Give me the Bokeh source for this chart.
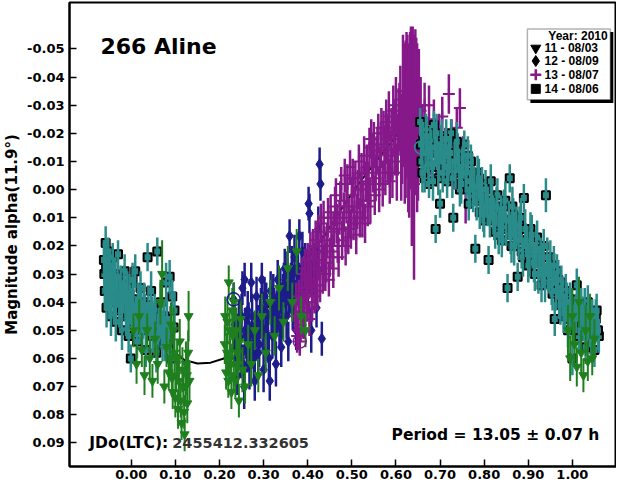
from bokeh.plotting import figure
from bokeh.models import (Range1d, FixedTicker, NumeralTickFormatter,
                          Label, BoxAnnotation, ColumnDataSource)
from bokeh.embed import file_html
from bokeh.resources import INLINE

# ---------------- data ----------------
x_ticks = [0.0, 0.1, 0.2, 0.3, 0.4, 0.5, 0.6, 0.7, 0.8, 0.9, 1.0]
y_ticks = [-0.05, -0.04, -0.03, -0.02, -0.01, 0.0, 0.01, 0.02, 0.03, 0.04,
           0.05, 0.06, 0.07, 0.08, 0.09]

legend_title = "Year: 2010"
legend_labels = ["11 - 08/03", "12 - 08/09", "13 - 08/07", "14 - 08/06"]

# session 11 (green, triangles)
s11_phase = [0.005, 0.012, 0.018, 0.024, 0.030, 0.036, 0.042, 0.048, 0.054, 0.060,
             0.066, 0.070, 0.075, 0.080, 0.085, 0.090, 0.094, 0.098, 0.102, 0.106,
             0.110, 0.114, 0.118, 0.121, 0.124, 0.127, 0.130, 0.132,
             0.088, 0.092, 0.096, 0.100, 0.104, 0.108, 0.112, 0.116, 0.120, 0.123,
             0.126, 0.129,
             0.212, 0.215, 0.218, 0.221, 0.224, 0.227, 0.230, 0.233, 0.236, 0.240,
             0.244, 0.248, 0.252, 0.258, 0.265, 0.272, 0.280, 0.288, 0.296, 0.305,
             0.315, 0.325, 0.335, 0.345, 0.355, 0.365, 0.375, 0.385, 0.395,
             0.213, 0.217, 0.220, 0.223, 0.226, 0.229, 0.232, 0.238, 0.242, 0.246,
             0.990, 0.995, 1.000, 1.005, 1.010, 1.015, 1.020, 1.025, 1.030, 1.035,
             1.040, 1.045, 1.050]
s11_mag = [0.050, 0.062, 0.045, 0.057, 0.066, 0.050, 0.060, 0.068, 0.053, 0.062,
           0.040, 0.030, 0.070, 0.056, 0.065, 0.048, 0.072, 0.058, 0.066, 0.078,
           0.054, 0.083, 0.070, 0.087, 0.062, 0.076, 0.045, 0.068,
           0.060, 0.067, 0.050, 0.074, 0.060, 0.068, 0.075, 0.064, 0.079, 0.070,
           0.066, 0.058,
           0.055, 0.065, 0.047, 0.033, 0.060, 0.072, 0.052, 0.040, 0.068, 0.058,
           0.075, 0.046, 0.064, 0.070, 0.055, 0.062, 0.050, 0.066, 0.045, 0.058,
           0.040, 0.052, 0.035, 0.047, 0.028, 0.040, 0.022, 0.045, 0.050,
           0.045, 0.058, 0.068, 0.050, 0.062, 0.043, 0.066, 0.050, 0.062, 0.054,
           0.050, 0.060, 0.045, 0.055, 0.063, 0.040, 0.058, 0.066, 0.050, 0.061,
           0.045, 0.060, 0.053]
s11_err = [0.006, 0.007, 0.006, 0.006, 0.007, 0.006, 0.007, 0.006, 0.006, 0.007,
           0.008, 0.012, 0.006, 0.007, 0.006, 0.008, 0.006, 0.007, 0.006, 0.007,
           0.008, 0.006, 0.007, 0.006, 0.008, 0.007, 0.009, 0.007,
           0.007, 0.006, 0.008, 0.007, 0.006, 0.007, 0.006, 0.008, 0.006, 0.007,
           0.007, 0.008,
           0.007, 0.006, 0.008, 0.006, 0.007, 0.006, 0.008, 0.007, 0.006, 0.008,
           0.006, 0.007, 0.008, 0.006, 0.007, 0.008, 0.007, 0.006, 0.008, 0.007,
           0.008, 0.007, 0.008, 0.007, 0.008, 0.007, 0.008, 0.007, 0.006,
           0.007, 0.007, 0.006, 0.008, 0.007, 0.008, 0.006, 0.008, 0.007, 0.007,
           0.009, 0.008, 0.010, 0.008, 0.007, 0.009, 0.008, 0.006, 0.009, 0.007,
           0.008, 0.006, 0.007]

# session 12 (navy, diamonds)
s12_phase = [0.232, 0.236, 0.240, 0.244, 0.248, 0.252, 0.256, 0.257, 0.260, 0.264,
             0.268, 0.272, 0.276, 0.280, 0.284, 0.288, 0.292, 0.296, 0.300, 0.302,
             0.304, 0.308, 0.312, 0.314, 0.316, 0.320, 0.324, 0.328, 0.332, 0.336,
             0.340, 0.344, 0.348, 0.352, 0.356, 0.359, 0.362, 0.366, 0.370, 0.374,
             0.378, 0.381, 0.384, 0.388, 0.392, 0.396, 0.400, 0.402, 0.404, 0.408,
             0.412, 0.416, 0.420, 0.424, 0.427, 0.429, 0.432, 0.435,
             0.234, 0.238, 0.242, 0.246, 0.250, 0.254, 0.258, 0.262, 0.266, 0.270,
             0.274, 0.278, 0.282, 0.286, 0.290, 0.294, 0.298, 0.306, 0.310, 0.318,
             0.322, 0.326, 0.330, 0.334, 0.338, 0.342, 0.346, 0.350, 0.354, 0.358,
             0.364, 0.368, 0.372, 0.376, 0.380, 0.386, 0.390, 0.394, 0.398, 0.406,
             0.410, 0.414, 0.418, 0.422]
s12_mag = [0.039, 0.055, 0.066, 0.047, 0.060, 0.035, 0.070, 0.032, 0.052, 0.043,
           0.063, 0.033, 0.055, 0.068, 0.038, 0.058, 0.046, 0.032, 0.064, 0.038,
           0.050, 0.044, 0.060, 0.068, 0.036, 0.052, 0.042, 0.062, 0.032, 0.048,
           0.056, 0.038, 0.028, 0.045, 0.054, 0.0165, 0.034, 0.043, 0.024, 0.050,
           0.030, 0.0165, 0.038, 0.022, 0.045, 0.028, 0.036, 0.005, 0.0085, 0.050,
           0.022, 0.032, 0.042, 0.014, -0.009, -0.002, 0.053, 0.028,
           0.048, 0.060, 0.052, 0.056, 0.045, 0.062, 0.050, 0.058, 0.048, 0.055,
           0.045, 0.060, 0.052, 0.048, 0.055, 0.042, 0.050, 0.040, 0.052, 0.045,
           0.038, 0.050, 0.044, 0.040, 0.036, 0.046, 0.034, 0.040, 0.030, 0.038,
           0.028, 0.035, 0.040, 0.028, 0.034, 0.030, 0.036, 0.026, 0.032, 0.028,
           0.036, 0.026, 0.030, 0.022]
s12_err = [0.006, 0.008, 0.007, 0.008, 0.007, 0.006, 0.008, 0.006, 0.008, 0.007,
           0.008, 0.007, 0.008, 0.007, 0.007, 0.008, 0.007, 0.006, 0.008, 0.007,
           0.008, 0.007, 0.008, 0.007, 0.007, 0.008, 0.007, 0.008, 0.007, 0.008,
           0.007, 0.008, 0.007, 0.008, 0.007, 0.006, 0.008, 0.007, 0.008, 0.007,
           0.008, 0.006, 0.008, 0.007, 0.008, 0.007, 0.008, 0.006, 0.007, 0.008,
           0.007, 0.008, 0.007, 0.008, 0.006, 0.006, 0.006, 0.008,
           0.008, 0.007, 0.008, 0.007, 0.008, 0.007, 0.008, 0.007, 0.008, 0.007,
           0.008, 0.007, 0.008, 0.007, 0.008, 0.007, 0.008, 0.007, 0.008, 0.007,
           0.008, 0.007, 0.008, 0.007, 0.008, 0.007, 0.008, 0.007, 0.008, 0.007,
           0.008, 0.007, 0.008, 0.007, 0.008, 0.007, 0.008, 0.007, 0.008, 0.007,
           0.008, 0.007, 0.008, 0.007]

# session 13 (purple, crosses)
s13_phase = [0.372, 0.376, 0.380, 0.382, 0.384, 0.388, 0.392, 0.396, 0.400, 0.404,
             0.408, 0.412, 0.416, 0.420, 0.424, 0.428, 0.432, 0.436, 0.440, 0.444,
             0.448, 0.452, 0.456, 0.460, 0.464, 0.468, 0.472, 0.476, 0.480, 0.484,
             0.488, 0.492, 0.496, 0.500, 0.504, 0.508, 0.512, 0.516, 0.520, 0.524,
             0.528, 0.532, 0.536, 0.540, 0.544, 0.548, 0.552, 0.556, 0.560, 0.564,
             0.567, 0.570, 0.574, 0.578, 0.582, 0.586, 0.590, 0.594, 0.598, 0.602,
             0.606, 0.610, 0.614, 0.618, 0.622, 0.626, 0.630, 0.634, 0.638, 0.641,
             0.644, 0.648, 0.652, 0.656, 0.660, 0.665, 0.670, 0.675, 0.680, 0.686,
             0.692, 0.698, 0.705, 0.712, 0.720, 0.726, 0.732, 0.738, 0.745, 0.752,
             0.758,
             0.374, 0.378, 0.386, 0.390, 0.394, 0.398, 0.402, 0.406, 0.410, 0.414,
             0.418, 0.422, 0.426, 0.430, 0.434, 0.438, 0.442, 0.446, 0.450, 0.454,
             0.458, 0.462, 0.466, 0.470, 0.474, 0.478, 0.482, 0.486, 0.490, 0.494,
             0.498, 0.502, 0.506, 0.510, 0.514, 0.518, 0.522, 0.526, 0.530, 0.534,
             0.538, 0.542, 0.546, 0.550, 0.554, 0.558, 0.562, 0.566, 0.572, 0.576,
             0.580, 0.584, 0.588, 0.592, 0.596, 0.600, 0.604, 0.608, 0.612, 0.616,
             0.620, 0.624, 0.628, 0.632, 0.636, 0.640, 0.646, 0.650]
s13_mag = [0.045, 0.052, 0.038, 0.054, 0.048, 0.030, 0.042, 0.035, 0.025, 0.046,
           0.032, 0.020, 0.038, 0.028, 0.015, 0.034, 0.022, 0.010, 0.030, 0.018,
           0.032, 0.008, 0.022, 0.014, 0.002, 0.020, 0.010, -0.002, 0.014, -0.005,
           0.006, 0.017, -0.008, 0.002, 0.012, -0.004, 0.008, -0.010, 0.000, 0.010,
           -0.012, -0.003, 0.006, -0.015, -0.018, -0.006, 0.002, -0.012, -0.020, -0.008,
           -0.022, -0.002, -0.015, -0.024, -0.010, -0.003, -0.020, -0.028, -0.014, -0.006,
           -0.024, -0.032, -0.018, -0.030, -0.025, -0.035, -0.020, -0.032, -0.028, -0.002,
           -0.035, -0.022, -0.030, -0.028, -0.022, -0.030, -0.018, -0.030, -0.012, -0.025,
           -0.008, -0.020, -0.026, -0.015, -0.034, -0.018, -0.008, -0.022, -0.029, -0.012,
           0.000,
           0.040, 0.050, 0.036, 0.046, 0.028, 0.040, 0.032, 0.022, 0.040, 0.028,
           0.018, 0.036, 0.025, 0.012, 0.030, 0.020, 0.026, 0.010, 0.024, 0.015,
           0.028, 0.006, 0.012, 0.024, 0.004, 0.018, 0.008, 0.020, -0.002, 0.010,
           0.014, -0.004, 0.006, 0.016, 0.000, 0.010, -0.006, 0.004, 0.012, -0.008,
           -0.002, 0.004, -0.012, -0.016, -0.004, -0.014, 0.000, -0.016, -0.020, -0.006,
           -0.018, -0.026, -0.012, -0.006, -0.022, -0.030, -0.016, -0.026, -0.010, -0.035,
           -0.020, -0.030, -0.022, -0.028, -0.010, -0.030, -0.026, -0.018]
s13_err = [0.006, 0.006, 0.006, 0.005, 0.006, 0.006, 0.006, 0.006, 0.006, 0.006,
           0.006, 0.006, 0.006, 0.006, 0.006, 0.006, 0.006, 0.006, 0.006, 0.006,
           0.006, 0.006, 0.006, 0.006, 0.006, 0.006, 0.006, 0.006, 0.006, 0.006,
           0.006, 0.006, 0.006, 0.006, 0.006, 0.006, 0.006, 0.006, 0.006, 0.007,
           0.007, 0.007, 0.007, 0.007, 0.007, 0.007, 0.007, 0.007, 0.007, 0.007,
           0.007, 0.008, 0.008, 0.008, 0.008, 0.008, 0.009, 0.009, 0.009, 0.010,
           0.012, 0.012, 0.016, 0.022, 0.028, 0.020, 0.030, 0.026, 0.030, 0.034,
           0.022, 0.030, 0.020, 0.012, 0.008, 0.008, 0.007, 0.007, 0.007, 0.007,
           0.007, 0.007, 0.007, 0.007, 0.007, 0.007, 0.008, 0.007, 0.007, 0.007,
           0.012,
           0.007, 0.007, 0.007, 0.007, 0.007, 0.007, 0.007, 0.007, 0.007, 0.007,
           0.007, 0.007, 0.007, 0.007, 0.007, 0.007, 0.007, 0.007, 0.007, 0.007,
           0.007, 0.007, 0.007, 0.007, 0.007, 0.007, 0.007, 0.007, 0.007, 0.007,
           0.007, 0.007, 0.007, 0.007, 0.007, 0.007, 0.007, 0.007, 0.007, 0.008,
           0.008, 0.008, 0.008, 0.008, 0.008, 0.008, 0.008, 0.008, 0.008, 0.008,
           0.009, 0.009, 0.009, 0.009, 0.010, 0.010, 0.011, 0.012, 0.014, 0.020,
           0.025, 0.026, 0.030, 0.028, 0.030, 0.025, 0.028, 0.022]

# session 14 (teal, squares)
s14_phase = [-0.062, -0.060, -0.058, -0.056, -0.054, -0.052, -0.050, -0.048, -0.046, -0.044,
             -0.042, -0.040, -0.037, -0.035, -0.032, -0.030, -0.027, -0.024, -0.021, -0.018,
             -0.015, -0.012, -0.009, -0.006, -0.003, -0.001, 0.003, 0.006, 0.009, 0.013,
             0.017, 0.021, 0.025, 0.029, 0.033, 0.037, 0.041, 0.045, 0.049, 0.053,
             0.057, 0.059, 0.063, 0.067, 0.071, 0.075, 0.079, 0.083, 0.087, 0.090,
             0.093, 0.096, 0.098,
             -0.061, -0.057, -0.053, -0.049, -0.045, -0.041, -0.036, -0.031, -0.026, -0.022,
             -0.017, -0.013, -0.008, -0.004, 0.001, 0.005, 0.011, 0.015, 0.019, 0.023,
             0.027, 0.031, 0.035, 0.039, 0.043, 0.047, 0.051, 0.055, 0.061, 0.065,
             0.069, 0.073, 0.077, 0.081, 0.085,
             0.655, 0.658, 0.662, 0.665, 0.668, 0.672, 0.675,
             0.678, 0.682, 0.686, 0.690, 0.693, 0.696, 0.700, 0.704, 0.708, 0.712,
             0.716, 0.720, 0.725, 0.730, 0.735, 0.740, 0.745, 0.750, 0.755, 0.760,
             0.765, 0.770, 0.775, 0.780, 0.785, 0.790, 0.795, 0.800, 0.805, 0.810,
             0.815, 0.820, 0.825, 0.830, 0.835, 0.840, 0.845, 0.850, 0.853, 0.858,
             0.862, 0.866, 0.870, 0.876, 0.880, 0.885, 0.890, 0.895, 0.900, 0.905,
             0.910, 0.915, 0.920, 0.925, 0.930, 0.935, 0.940, 0.945, 0.950, 0.955,
             0.960, 0.965, 0.970, 0.975, 0.980, 0.985, 0.990, 0.995, 1.000, 1.005,
             1.010, 1.015, 1.020, 1.025, 1.030, 1.035, 1.040, 1.045, 1.050, 1.055,
             1.060,
             0.657, 0.660, 0.667, 0.670, 0.674, 0.680, 0.684, 0.688, 0.692, 0.698,
             0.702, 0.706, 0.710, 0.714, 0.718, 0.723, 0.728, 0.733, 0.738, 0.743,
             0.748, 0.753, 0.758, 0.763, 0.768, 0.773, 0.778, 0.783, 0.788, 0.793,
             0.798, 0.803, 0.808, 0.813, 0.818, 0.823, 0.828, 0.833, 0.838, 0.843,
             0.848, 0.856, 0.860, 0.864, 0.868, 0.873, 0.878, 0.883, 0.888, 0.893,
             0.898, 0.903, 0.908, 0.913, 0.918, 0.923, 0.928, 0.933, 0.938, 0.943,
             0.948, 0.953, 0.958, 0.963, 0.968, 0.973, 0.978, 0.983, 0.988, 0.993,
             0.998, 1.003, 1.008, 1.013, 1.018, 1.023, 1.028, 1.033, 1.038, 1.043,
             1.048, 1.053, 1.058]
s14_mag = [0.025, 0.036, 0.019, 0.042, 0.030, 0.022, 0.038, 0.027, 0.045, 0.033,
           0.024, 0.040, 0.030, 0.047, 0.036, 0.023, 0.043, 0.033, 0.050, 0.038,
           0.029, 0.045, 0.035, 0.052, 0.041, 0.060, 0.032, 0.047, 0.029, 0.054,
           0.043, 0.035, 0.050, 0.040, 0.057, 0.024, 0.046, 0.036, 0.052, 0.043,
           0.058, 0.022, 0.048, 0.040, 0.055, 0.045, 0.033, 0.052, 0.031, 0.060,
           0.038, 0.049, 0.043,
           0.030, 0.028, 0.036, 0.032, 0.038, 0.034, 0.040, 0.031, 0.037, 0.042,
           0.034, 0.040, 0.044, 0.037, 0.042, 0.039, 0.045, 0.040, 0.048, 0.042,
           0.046, 0.044, 0.049, 0.041, 0.050, 0.045, 0.048, 0.046, 0.051, 0.046,
           0.050, 0.049, 0.054, 0.046, 0.055,
           -0.024, -0.010, -0.018, -0.004, -0.021, -0.012, -0.002,
           -0.017, -0.008, -0.023, 0.014, -0.013, -0.004, 0.005, -0.019, -0.009, -0.015,
           -0.003, -0.011, -0.020, 0.010, -0.006, -0.014, 0.000, -0.009, -0.016, -0.003,
           0.005, -0.010, 0.002, 0.021, -0.006, 0.008, -0.002, 0.011, 0.004, 0.025,
           -0.003, 0.008, 0.015, 0.002, 0.012, 0.018, 0.006, 0.014, 0.035, -0.004,
           0.020, 0.009, 0.016, 0.031, 0.012, 0.022, 0.003, 0.018, 0.027, 0.014,
           0.022, 0.030, 0.017, 0.026, 0.034, 0.020, 0.002, 0.030, 0.024, 0.037,
           0.046, 0.029, 0.040, 0.033, 0.045, 0.036, 0.050, 0.039, 0.060, 0.044,
           0.034, 0.052, 0.041, 0.048, 0.056, 0.040, 0.050, 0.045, 0.057, 0.043,
           0.052,
           -0.016, -0.006, -0.013, -0.019, -0.009, -0.014, -0.003, -0.015, -0.020, -0.010,
           -0.016, -0.006, -0.012, -0.018, -0.008, -0.013, -0.004, -0.010, -0.017, -0.007,
           -0.002, -0.011, -0.006, -0.012, 0.000, -0.006, -0.001, 0.004, -0.004, 0.003,
           0.008, 0.000, 0.006, 0.010, 0.004, 0.011, 0.006, 0.016, 0.009, 0.013,
           0.004, 0.011, 0.016, 0.006, 0.020, 0.013, 0.018, 0.010, 0.024, 0.014,
           0.020, 0.024, 0.016, 0.026, 0.021, 0.030, 0.024, 0.028, 0.033, 0.024,
           0.030, 0.034, 0.027, 0.036, 0.032, 0.041, 0.038, 0.044, 0.040, 0.046,
           0.042, 0.048, 0.044, 0.040, 0.050, 0.045, 0.042, 0.049, 0.046, 0.053,
           0.049, 0.046, 0.050]
s14_err = [0.006, 0.005, 0.006, 0.007, 0.006, 0.005, 0.006, 0.006, 0.007, 0.006,
           0.005, 0.006, 0.006, 0.007, 0.006, 0.005, 0.006, 0.006, 0.007, 0.006,
           0.006, 0.007, 0.006, 0.006, 0.007, 0.005, 0.006, 0.007, 0.006, 0.006,
           0.007, 0.006, 0.006, 0.007, 0.006, 0.005, 0.006, 0.007, 0.006, 0.006,
           0.007, 0.005, 0.006, 0.007, 0.006, 0.006, 0.007, 0.006, 0.006, 0.007,
           0.006, 0.006, 0.007,
           0.007, 0.007, 0.007, 0.007, 0.007, 0.007, 0.007, 0.007, 0.007, 0.007,
           0.007, 0.007, 0.007, 0.007, 0.007, 0.007, 0.007, 0.007, 0.007, 0.007,
           0.007, 0.007, 0.007, 0.007, 0.007, 0.007, 0.007, 0.007, 0.007, 0.007,
           0.007, 0.007, 0.007, 0.007, 0.007,
           0.005, 0.006, 0.006, 0.005, 0.006, 0.006, 0.005,
           0.006, 0.006, 0.005, 0.005, 0.006, 0.006, 0.005, 0.006, 0.006, 0.006,
           0.006, 0.006, 0.005, 0.005, 0.006, 0.006, 0.006, 0.006, 0.005, 0.006,
           0.006, 0.006, 0.006, 0.005, 0.006, 0.006, 0.006, 0.006, 0.006, 0.005,
           0.006, 0.006, 0.006, 0.006, 0.006, 0.006, 0.006, 0.006, 0.005, 0.005,
           0.006, 0.006, 0.006, 0.005, 0.006, 0.006, 0.005, 0.006, 0.006, 0.006,
           0.006, 0.006, 0.006, 0.006, 0.006, 0.006, 0.006, 0.006, 0.006, 0.006,
           0.006, 0.006, 0.006, 0.006, 0.006, 0.006, 0.006, 0.006, 0.006, 0.006,
           0.006, 0.006, 0.006, 0.006, 0.006, 0.006, 0.006, 0.006, 0.006, 0.006,
           0.006,
           0.007, 0.007, 0.007, 0.007, 0.007, 0.007, 0.007, 0.007, 0.007, 0.007,
           0.007, 0.007, 0.007, 0.007, 0.007, 0.007, 0.007, 0.007, 0.007, 0.007,
           0.007, 0.007, 0.007, 0.007, 0.007, 0.007, 0.007, 0.007, 0.007, 0.007,
           0.007, 0.007, 0.007, 0.007, 0.007, 0.007, 0.007, 0.007, 0.007, 0.007,
           0.007, 0.007, 0.007, 0.007, 0.007, 0.007, 0.007, 0.007, 0.007, 0.007,
           0.007, 0.007, 0.007, 0.007, 0.007, 0.007, 0.007, 0.007, 0.007, 0.007,
           0.007, 0.007, 0.007, 0.007, 0.007, 0.007, 0.007, 0.007, 0.007, 0.007,
           0.007, 0.007, 0.007, 0.007, 0.007, 0.007, 0.007, 0.007, 0.007, 0.007,
           0.007, 0.007, 0.007]

# Fourier fit curve
fit_phase = [-0.065, -0.03, 0.0, 0.03, 0.06, 0.09, 0.12, 0.15, 0.18, 0.21,
             0.24, 0.28, 0.32, 0.36, 0.40, 0.44, 0.48, 0.52, 0.56, 0.60,
             0.63, 0.66, 0.70, 0.75, 0.80, 0.85, 0.90, 0.95, 1.00, 1.06]
fit_mag = [0.030, 0.036, 0.042, 0.047, 0.052, 0.057, 0.0605, 0.0618, 0.0615, 0.0600,
           0.055, 0.047, 0.040, 0.032, 0.024, 0.016, 0.006, -0.003, -0.011, -0.019,
           -0.024, -0.018, -0.012, -0.006, 0.001, 0.009, 0.019, 0.029, 0.039, 0.048]

# highlighted (circled) points
circ_phase = [0.232, 0.382, 0.657]
circ_mag = [0.039, 0.054, -0.015]

# ---------------- styling / layout ----------------
C11, C12, C13, C14 = "#1f7f1f", "#1c1c8a", "#86198a", "#2a8c8a"
circ_color = [C12, C13, C14]
FONT = "DejaVu Sans"
LFONT = "Liberation Sans"

# legend placement, in the plot's own coordinates (phase, magnitude)
LEG_BOX = (0.898, 1.086, -0.0319, -0.0571)     # left, right, bottom, top
LEG_SHADOW = (0.0068, 0.0011)                    # shadow offset (right, down)
LEG_MARK_X, LEG_TEXT_X = 0.917, 0.937
LEG_TITLE_XY = (1.080, -0.0546)
LEG_ROWS_Y = [-0.0503, -0.0457, -0.0408, -0.0358]


def src(ph, mg, er):
    return ColumnDataSource(dict(phase=ph, mag=mg,
                                 lo=[m - e for m, e in zip(mg, er)],
                                 hi=[m + e for m, e in zip(mg, er)]))


p = figure(width=616, height=481, output_backend="svg", toolbar_location=None,
           x_range=Range1d(-0.14, 1.10), y_range=Range1d(0.0984, -0.0665),
           min_border_left=63, min_border_right=0, min_border_top=2,
           min_border_bottom=0)
p.grid.visible = False
p.outline_line_color = "black"
p.outline_line_width = 2
p.background_fill_color = "white"
p.border_fill_color = "white"

for ax in (p.xaxis[0], p.yaxis[0]):
    ax.axis_line_width = 2
    ax.major_tick_line_width = 1.5
    ax.major_tick_in = 7
    ax.major_tick_out = 0
    ax.minor_tick_line_color = None
    ax.major_label_text_font = FONT
    ax.major_label_text_font_style = "bold"
    ax.major_label_text_font_size = "13px"
    ax.major_label_text_color = "black"
    ax.formatter = NumeralTickFormatter(format="0.00")

p.xaxis[0].major_label_standoff = 3
p.yaxis[0].major_label_standoff = 5
p.xaxis[0].ticker = FixedTicker(ticks=x_ticks)
p.yaxis[0].ticker = FixedTicker(ticks=y_ticks)
p.yaxis[0].axis_label = "Magnitude alpha(11.9\u00b0)"
p.yaxis[0].axis_label_text_font = FONT
p.yaxis[0].axis_label_text_font_style = "bold"
p.yaxis[0].axis_label_text_font_size = "15px"
p.yaxis[0].axis_label_text_color = "black"
p.yaxis[0].axis_label_standoff = 3

# fit curve (beneath the data)
p.line(fit_phase, fit_mag, line_color="black", line_width=2)

# session 12
s12 = src(s12_phase, s12_mag, s12_err)
p.segment(x0="phase", y0="lo", x1="phase", y1="hi", source=s12, line_color=C12, line_width=2.5)
p.scatter(x="phase", y="mag", source=s12, marker="diamond", size=11, color=C12)

# session 13
s13 = src(s13_phase, s13_mag, s13_err)
p.segment(x0="phase", y0="lo", x1="phase", y1="hi", source=s13, line_color=C13, line_width=2.5)
p.scatter(x="phase", y="mag", source=s13, marker="cross", size=12, line_color=C13, line_width=2)

# session 14
s14 = src(s14_phase, s14_mag, s14_err)
p.scatter(x="phase", y="mag", source=s14, marker="square", size=8,
          fill_color=C14, line_color="black", line_width=2)
p.segment(x0="phase", y0="lo", x1="phase", y1="hi", source=s14, line_color=C14, line_width=2.5)

# session 11
s11 = src(s11_phase, s11_mag, s11_err)
p.segment(x0="phase", y0="lo", x1="phase", y1="hi", source=s11, line_color=C11, line_width=2)
p.scatter(x="phase", y="mag", source=s11, marker="inverted_triangle", size=9, color=C11)

# circled points
p.scatter(circ_phase, circ_mag, marker="circle", size=13, fill_color=None,
          line_color=circ_color, line_width=1.5)

# ---------------- legend (box with shadow) ----------------
bl, br, bb, bt = LEG_BOX
dx, dy = LEG_SHADOW
p.add_layout(BoxAnnotation(left=bl + dx, right=br + dx, bottom=bb + dy, top=bt + dy,
                           fill_color="black", fill_alpha=1, line_color=None))
p.add_layout(BoxAnnotation(left=bl, right=br, bottom=bb, top=bt,
                           fill_color="white", fill_alpha=1,
                           line_color="black", line_width=1.5))
p.add_layout(Label(x=LEG_TITLE_XY[0], y=LEG_TITLE_XY[1],
                   text=legend_title, text_font=LFONT, text_font_style="bold",
                   text_font_size="12px", text_align="right", text_baseline="middle",
                   text_color="black"))
for lab, yy in zip(legend_labels, LEG_ROWS_Y):
    p.add_layout(Label(x=LEG_TEXT_X, y=yy,
                       text=lab, text_font=LFONT, text_font_style="bold",
                       text_font_size="12px", text_align="left", text_baseline="middle",
                       text_color="black"))

leg_markers = [("inverted_triangle", 10, "black", "black", 1),
               ("diamond", 11, "black", "black", 1),
               ("cross", 11, C13, C13, 2.5),
               ("square", 9, "black", "black", 1)]
for (mk, sz, fc, lc, lw), yy in zip(leg_markers, LEG_ROWS_Y):
    p.scatter(x=[LEG_MARK_X], y=[yy], marker=mk, size=sz, fill_color=fc,
              line_color=lc, line_width=lw, level="overlay")

# ---------------- texts ----------------
p.add_layout(Label(x=-0.07, y=-0.051, text="266 Aline", text_font=FONT,
                   text_font_style="bold", text_font_size="22px",
                   text_baseline="middle", text_color="black"))
p.add_layout(Label(x=-0.095, y=0.09, text="JDo(LTC):", text_font=FONT,
                   text_font_style="bold", text_font_size="15.5px",
                   text_baseline="middle", text_color="black"))
p.add_layout(Label(x=0.093, y=0.09, text="2455412.332605", text_font=FONT,
                   text_font_style="bold", text_font_size="14.5px",
                   text_baseline="middle", text_color="#333333"))
p.add_layout(Label(x=0.59, y=0.0872, text="Period = 13.05 \u00b1 0.07 h", text_font=FONT,
                   text_font_style="bold", text_font_size="15.5px",
                   text_baseline="middle", text_color="black"))

open("out.html", "w").write(file_html(p, INLINE))
